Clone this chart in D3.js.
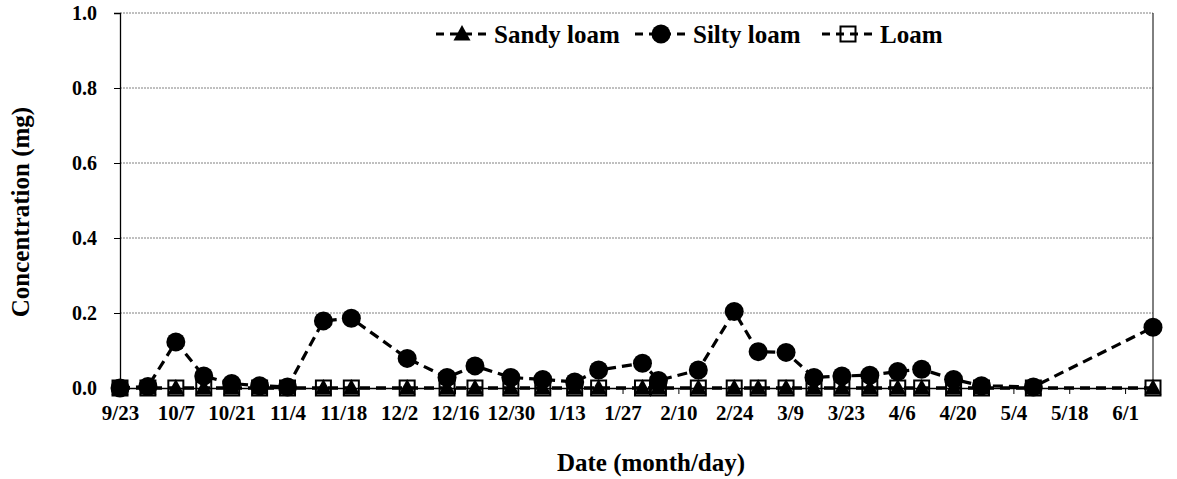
<!DOCTYPE html>
<html><head><meta charset="utf-8">
<script src="https://cdn.jsdelivr.net/npm/d3@7"></script>
<style>body{margin:0;background:#fff}svg{display:block}text{font-family:"Liberation Serif","Times New Roman",serif;font-weight:bold;fill:#000}</style>
</head><body><div id="chart"></div>
<script>
const dates = ["2011-09-23","2011-09-30","2011-10-07","2011-10-14","2011-10-21","2011-10-28","2011-11-04","2011-11-13","2011-11-20","2011-12-04","2011-12-14","2011-12-21","2011-12-30","2012-01-07","2012-01-15","2012-01-21","2012-02-01","2012-02-05","2012-02-15","2012-02-24","2012-03-01","2012-03-08","2012-03-15","2012-03-22","2012-03-29","2012-04-05","2012-04-11","2012-04-19","2012-04-26","2012-05-09","2012-06-08"];
const sandyLoam = [0,0,0,0,0,0,0,0,0,0,0,0,0,0,0,0,0,0,0,0,0,0,0,0,0,0,0,0,0,0,0];
const siltyLoam = [0,0.004,0.123,0.032,0.012,0.006,0.003,0.179,0.186,0.079,0.028,0.059,0.028,0.023,0.016,0.048,0.066,0.02,0.048,0.204,0.097,0.095,0.028,0.032,0.034,0.044,0.05,0.023,0.006,0.003,0.162];
const loam = [0,0,0,0,0,0,0,0,0,0,0,0,0,0,0,0,0,0,0,0,0,0,0,0,0,0,0,0,0,0,0];
const xTickDates = ["2011-09-23","2011-10-07","2011-10-21","2011-11-04","2011-11-18","2011-12-02","2011-12-16","2011-12-30","2012-01-13","2012-01-27","2012-02-10","2012-02-24","2012-03-09","2012-03-23","2012-04-06","2012-04-20","2012-05-04","2012-05-18","2012-06-01"];
const xTickLabels = ["9/23","10/7","10/21","11/4","11/18","12/2","12/16","12/30","1/13","1/27","2/10","2/24","3/9","3/23","4/6","4/20","5/4","5/18","6/1"];
const yTicks = [0,0.2,0.4,0.6,0.8,1.0];
const seriesNames = ["Sandy loam","Silty loam","Loam"];
const xDomain = ["2011-09-23","2012-06-08"];

const W=1177,H=479, L=120, R=1153, T=13, B=388;
const parse = d3.utcParse("%Y-%m-%d");
const svg = d3.select("#chart").append("svg").attr("width",W).attr("height",H);
svg.append("rect").attr("width",W).attr("height",H).attr("fill","#fff");
const x = d3.scaleUtc().domain(xDomain.map(parse)).range([L,R]);
const y = d3.scaleLinear().domain([0,1]).range([B,T]);

// gridlines
svg.append("g").selectAll("line").data(yTicks.filter(d=>d>0)).join("line")
  .attr("x1",L).attr("x2",R).attr("y1",d=>y(d)).attr("y2",d=>y(d))
  .attr("stroke","#808080").attr("stroke-width",1).attr("stroke-dasharray","2,1");
// right border
svg.append("line").attr("x1",R).attr("x2",R).attr("y1",T).attr("y2",B).attr("stroke","#000").attr("stroke-width",1);

// y axis
const ya = svg.append("g").attr("transform",`translate(${L},0)`)
  .call(d3.axisLeft(y).tickValues(yTicks).tickFormat(d3.format(".1f")).tickSize(6).tickPadding(17));
ya.select(".domain").attr("stroke","#000").attr("stroke-width",1.3);
ya.selectAll(".tick line").attr("stroke","#000");
ya.selectAll("text").style("font-size","20px").style("font-family","Liberation Serif").style("font-weight","bold");

// x axis
const xa = svg.append("g").attr("transform",`translate(0,${B})`)
  .call(d3.axisBottom(x).tickValues(xTickDates.map(parse)).tickFormat((d,i)=>xTickLabels[i]).tickSize(6).tickPadding(11));
xa.select(".domain").attr("stroke","#000").attr("stroke-width",1.5);
xa.selectAll(".tick line").attr("stroke","#000");
xa.selectAll("text").style("font-size","21px").style("font-family","Liberation Serif").style("font-weight","bold");

// titles
svg.append("text").attr("x",651).attr("y",471).attr("text-anchor","middle").style("font-size","25px").text("Date (month/day)");
svg.append("text").attr("transform","translate(29,212) rotate(-90)").attr("text-anchor","middle").style("font-size","25px").text("Concentration (mg)");

const tri = "M0,-9L8.5,6.5L-8.5,6.5Z";
function marker(g, kind){
  if(kind===0) return g.append("path").attr("d",tri).attr("fill","#000");
  if(kind===1) return g.append("circle").attr("r",9.5).attr("fill","#000");
  return g.append("rect").attr("x",-7.5).attr("y",-7.5).attr("width",15).attr("height",15).attr("fill","none").attr("stroke","#000").attr("stroke-width",2);
}
const allSeries = [sandyLoam, siltyLoam, loam];
const line = d3.line().x((d,i)=>x(parse(dates[i]))).y(d=>y(d));
allSeries.forEach((vals,k)=>{
  const g = svg.append("g");
  g.append("path").datum(vals).attr("d",line).attr("fill","none").attr("stroke","#000")
    .attr("stroke-width",3.2).attr("stroke-dasharray","10,6");
  vals.forEach((v,i)=>{
    marker(g.append("g").attr("transform",`translate(${x(parse(dates[i]))},${y(v)})`), k);
  });
});

// legend
const legX = [462,661,848];
seriesNames.forEach((name,k)=>{
  const g = svg.append("g").attr("transform",`translate(${legX[k]},34)`);
  g.append("line").attr("x1",-26).attr("x2",30).attr("stroke","#000").attr("stroke-width",3.2).attr("stroke-dasharray","8,6");
  marker(g.append("g"), k);
  g.append("text").attr("x",32).attr("y",8.5).style("font-size","25px").text(name);
});
</script></body></html>
